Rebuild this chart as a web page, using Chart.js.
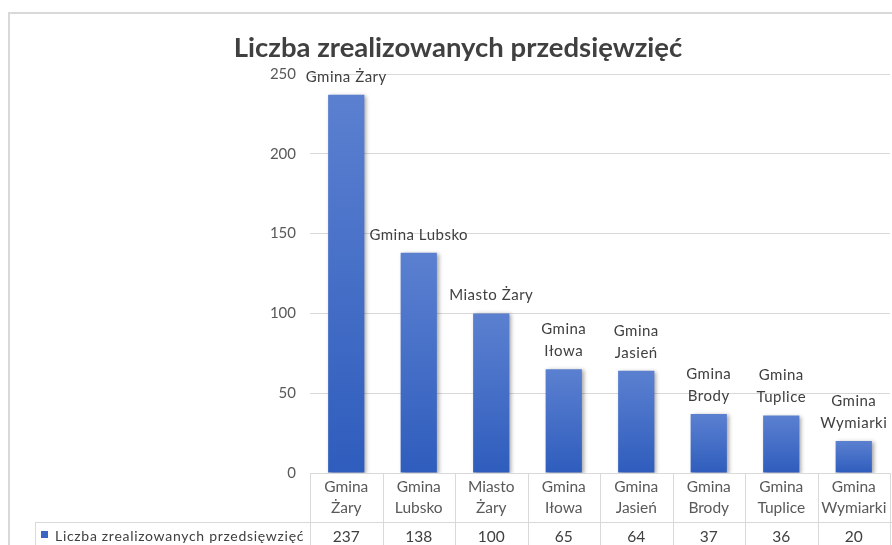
<!DOCTYPE html>
<html>
<head>
<meta charset="UTF-8">
<title>Liczba zrealizowanych przedsięwzięć</title>
<style>
  body { margin: 0; background: #fff; }
  #chart { display: block; }
</style>
</head>
<body>
<canvas id="chart" width="892" height="545"></canvas>
<script src="https://cdn.jsdelivr.net/npm/chart.js"></script>
<script>
const categories = ["Gmina Żary", "Gmina Lubsko", "Miasto Żary", "Gmina Iłowa", "Gmina Jasień", "Gmina Brody", "Gmina Tuplice", "Gmina Wymiarki"];
const values = [237, 138, 100, 65, 64, 37, 36, 20];
const seriesName = "Liczba zrealizowanych przedsięwzięć";
const yMin = 0, yMax = 250, yStep = 50;
// etykiety nad słupkami zawijane na dwie linie
const wrapLabel = [false, false, false, true, true, true, true, true];

const FONT = "Lato";
const TEXT = "#404040";
const GRID = "#d9d9d9";

// ramka wykresu (jak w Excelu)
const frame = {
  id: "frame",
  beforeDraw(chart) {
    const c = chart.ctx;
    c.save();
    c.fillStyle = "#fff";
    c.fillRect(0, 0, chart.width, chart.height);
    c.strokeStyle = GRID;
    c.lineWidth = 2;
    c.strokeRect(9, 13, chart.width + 20, chart.height + 20);
    c.restore();
  }
};

// cień pod słupkami
const barShadow = {
  id: "barShadow",
  beforeDatasetsDraw(chart) {
    const c = chart.ctx;
    c.save();
    c.shadowColor = "rgba(0,0,0,0.35)";
    c.shadowBlur = 4;
    c.shadowOffsetX = 2;
    c.shadowOffsetY = 1;
  },
  afterDatasetsDraw(chart) {
    chart.ctx.restore();
  }
};

// nazwy nad słupkami
const barLabels = {
  id: "barLabels",
  afterDatasetsDraw(chart) {
    const c = chart.ctx;
    c.save();
    c.font = "15px " + FONT;
    c.letterSpacing = "0.5px";
    c.fillStyle = TEXT;
    c.textAlign = "center";
    c.textBaseline = "middle";
    chart.getDatasetMeta(0).data.forEach((bar, i) => {
      const lines = wrapLabel[i] ? categories[i].split(" ") : [categories[i]];
      lines.forEach((t, k) => {
        c.fillText(t, bar.x, bar.y - 18 - (lines.length - 1 - k) * 22);
      });
    });
    c.restore();
  }
};

// tabela danych pod osią X
const dataTable = {
  id: "dataTable",
  afterDraw(chart) {
    const c = chart.ctx, x = chart.scales.x, area = chart.chartArea;
    const top = area.bottom, rowY = top + 49, bottom = chart.height;
    const step = (area.right - area.left) / categories.length;
    c.save();
    c.strokeStyle = GRID;
    c.lineWidth = 1;
    c.beginPath();
    for (let k = 0; k <= categories.length; k++) {
      const px = Math.round(area.left + k * step) + 0.5;
      c.moveTo(px, top);
      c.lineTo(px, bottom);
    }
    c.moveTo(35.5, Math.round(rowY) + 0.5);
    c.lineTo(chart.width, Math.round(rowY) + 0.5);
    c.moveTo(35.5, rowY);
    c.lineTo(35.5, bottom);
    c.stroke();

    c.font = "15.5px " + FONT;
    c.fillStyle = TEXT;
    c.textAlign = "center";
    c.textBaseline = "middle";
    values.forEach((v, i) => c.fillText(String(v), x.getPixelForValue(i), rowY + 15));

    c.fillStyle = "#3a66c4";
    c.fillRect(41, 531, 7, 7);
    c.fillStyle = TEXT;
    c.font = "14px " + FONT;
    c.letterSpacing = "0.7px";
    c.textAlign = "left";
    c.fillText(seriesName, 55, 536);
    c.restore();
  }
};

new Chart(document.getElementById("chart"), {
  type: "bar",
  data: {
    labels: categories.map(s => s.split(" ")),
    datasets: [{
      label: seriesName,
      data: values,
      categoryPercentage: 1,
      barPercentage: 0.5,
      backgroundColor(ctx) {
        const chart = ctx.chart, y = chart.scales.y;
        if (!chart.chartArea || ctx.raw == null) return "#4472c4";
        const g = chart.ctx.createLinearGradient(0, y.getPixelForValue(ctx.raw), 0, y.getPixelForValue(0));
        g.addColorStop(0, "#5b80d0");
        g.addColorStop(1, "#2f5dbd");
        return g;
      }
    }]
  },
  options: {
    responsive: false,
    animation: false,
    layout: { padding: { left: 26, right: 2, top: 0, bottom: 0 } },
    plugins: {
      legend: { display: false },
      tooltip: { enabled: false },
      title: {
        display: true,
        text: seriesName,
        color: TEXT,
        font: { family: FONT, size: 27.5, weight: "bold", lineHeight: 1.2 },
        padding: { top: 32, bottom: 9 }
      }
    },
    scales: {
      x: {
        grid: { display: false, drawTicks: false },
        border: { display: false },
        ticks: {
          autoSkip: false,
          maxRotation: 0,
          padding: 3.5,
          color: "#595959",
          font: { family: FONT, size: 15.5, lineHeight: 1.355 }
        },
        afterFit(s) { s.height = 72; }
      },
      y: {
        min: yMin,
        max: yMax,
        grid: { color: GRID, drawTicks: false },
        border: { display: false },
        ticks: {
          stepSize: yStep,
          padding: 14,
          color: "#595959",
          font: { family: FONT, size: 15 }
        },
        afterFit(s) { s.width = 284; }
      }
    }
  },
  plugins: [frame, barShadow, barLabels, dataTable]
});
</script>
</body>
</html>
